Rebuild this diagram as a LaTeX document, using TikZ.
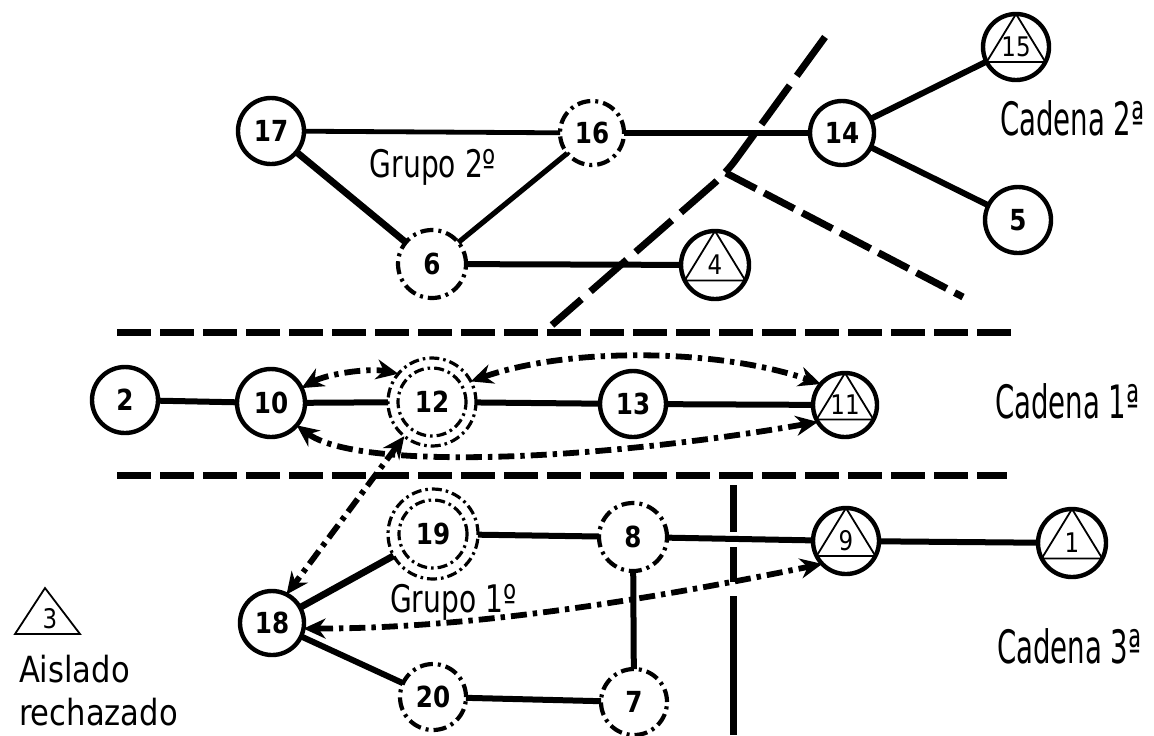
\documentclass[tikz,border=0pt]{standalone}
\usepackage{fontspec}
\usetikzlibrary{arrows.meta}
\newfontfamily\fnum[FakeStretch=0.85]{DejaVu Sans}
\newfontfamily\ftri[FakeStretch=0.85]{DejaVu Sans}
\newfontfamily\fcad[FakeStretch=0.6]{DejaVu Sans}
\newfontfamily\fgrp[FakeStretch=0.74]{DejaVu Sans}
\newfontfamily\fais[FakeStretch=0.85]{DejaVu Sans}
\begin{document}
\begin{tikzpicture}[x=0.5pt,y=-0.5pt,
  nbase/.style={circle, inner sep=0pt, outer sep=0pt, font=\fnum\bfseries\fontsize{14.5pt}{16pt}\selectfont},
  solidc/.style={nbase, draw, line width=2.2pt},
  tric/.style={nbase, draw, line width=2.2pt, font=\ftri\fontsize{13.5pt}{14pt}\selectfont},
  dashc/.style={nbase, draw, line width=2.1pt, dash pattern=on 6.5pt off 2.5pt on 1.5pt off 2.5pt},
  ringc/.style={nbase, draw, line width=1.6pt, dash pattern=on 5pt off 2pt on 1.3pt off 2pt},
  ringline/.style={line width=1.6pt, dash pattern=on 5pt off 2pt on 1.3pt off 2pt},
  triline/.style={line width=0.9pt, line join=miter},
  edgeline/.style={line width=3pt},
  sepline/.style={line width=3.5pt, dash pattern=on 17pt off 4.5pt},
  diagline/.style={line width=3.5pt, dash pattern=on 24pt off 6pt},
  ddarrow/.style={line width=2.9pt, dash pattern=on 8pt off 3pt on 2.2pt off 3pt,
     {Stealth[length=11pt,width=10pt]}-{Stealth[length=11pt,width=10pt]}},
  cadlab/.style={anchor=base west, font=\fcad\fontsize{23pt}{24pt}\selectfont},
  grplab/.style={font=\fgrp\fontsize{19pt}{20pt}\selectfont},
  aislab/.style={anchor=base west, font=\fais\fontsize{18pt}{19pt}\selectfont}
]
\fill[white] (0,0) rectangle (1154,735);
\useasboundingbox (0,0) rectangle (1154,735);

% nodes
\node[solidc,minimum size=33pt] (n17) at (271,131) {17};
\node[dashc,minimum size=32pt] (n16) at (592,133) {16};
\node[solidc,minimum size=32pt] (n14) at (842,133) {14};
\node[tric,minimum size=33pt] (n15) at (1016,47) {\raisebox{-3pt}{15}};
\node[solidc,minimum size=33pt] (n5) at (1018,220) {5};
\node[dashc,minimum size=34pt] (n6) at (432,264) {6};
\node[tric,minimum size=34pt] (n4) at (715,265) {\raisebox{-3pt}{4}};
\node[solidc,minimum size=33pt] (n2) at (125,400) {2};
\node[solidc,minimum size=34pt] (n10) at (271,403) {10};
\node[ringc,minimum size=44pt] (n12) at (432,402) {12};
\node[solidc,minimum size=33pt] (n13) at (633,404) {13};
\node[tric,minimum size=32pt] (n11) at (845,405) {\raisebox{-3pt}{11}};
\node[ringc,minimum size=45pt] (n19) at (433,534) {19};
\node[dashc,minimum size=34pt] (n8) at (633,537) {8};
\node[tric,minimum size=33pt] (n9) at (846,541) {\raisebox{-3pt}{9}};
\node[tric,minimum size=34pt] (n1) at (1072,543) {\raisebox{-3pt}{1}};
\node[solidc,minimum size=32pt] (n18) at (272,623) {18};
\node[dashc,minimum size=33pt] (n20) at (433,697) {20};
\node[dashc,minimum size=33pt] (n7) at (634,702) {7};

% inner rings
\draw[ringline] (n12.center) circle[radius=17pt];
\draw[ringline] (n19.center) circle[radius=17pt];

% triangles in circles
\foreach \n in {n15,n4,n11,n9,n1}{
  \draw[triline] (\n.90) -- (\n.207) -- (\n.333) -- cycle;
}

% connectors
\draw[edgeline, line width=2.4pt] (n17) -- (n16);
\draw[edgeline] (n16) -- (n14);
\draw[edgeline] (n14) -- (n15);
\draw[edgeline] (n14) -- (n5);
\draw[edgeline, line width=3.4pt] (n17) -- (n6);
\draw[edgeline, line width=2.6pt] (n16) -- (n6);
\draw[edgeline] (n6) -- (n4);
\draw[edgeline] (n2) -- (n10);
\draw[edgeline] (n10) -- (n12);
\draw[edgeline] (n12) -- (n13);
\draw[edgeline] (n13) -- (n11);
\draw[edgeline, line width=3.4pt] (n18) -- (n19);
\draw[edgeline] (n18) -- (n20);
\draw[edgeline] (n19) -- (n8);
\draw[edgeline] (n8) -- (n9);
\draw[edgeline] (n9) -- (n1);
\draw[edgeline] (n8) -- (n7);
\draw[edgeline] (n20) -- (n7);

% separators
\draw[sepline] (117,332) -- (1013,332);
\draw[sepline] (117,475) -- (1007,475);
\coordinate (dj) at (726,173);
\draw[diagline, rounded corners=8pt] (825,37) -- (dj) -- (552,325);
\draw[sepline] (dj) -- (963,297);
\draw[line width=3.5pt, dash pattern=on 23.5pt off 7.5pt] (733,485) -- (733,582);
\draw[line width=3.5pt] (733,596) -- (733,735);

% dash-dot double arrows
\draw[ddarrow] (n10.26) .. controls +(25,-14) and +(-30,-6) .. (n12.140);
\draw[ddarrow] (n12.28) .. controls +(100,-35) and +(-100,-35) .. (n11.139);
\draw[ddarrow] (n10.319) .. controls +(60,45) and +(-230,40) .. (n11.212);
\draw[ddarrow] (n12.231) -- (n18.63);
\draw[ddarrow] (n18.350) .. controls +(170,0) and +(-170,35) .. (n9.224);

% labels
\node[grplab, anchor=base] (g2) at (433,177) {Grupo 2º};
\node[grplab, anchor=base west] (g1) at (383,612) {Grupo 1º};
\node[cadlab] (c2) at (993,135) {Cadena 2ª};
\node[cadlab] (c1) at (988,418) {Cadena 1ª};
\node[cadlab] (c3) at (990,663) {Cadena 3ª};

% isolated
\node[font=\ftri\fontsize{13.5pt}{14pt}\selectfont] (t3) at (50,619) {3};
\draw[triline] (45,588) -- (15,634) -- (80,634) -- cycle;
\node[aislab] (ais) at (12,682) {Aislado};
\node[aislab] (rech) at (12,725) {rechazado};
\end{tikzpicture}
\end{document}
